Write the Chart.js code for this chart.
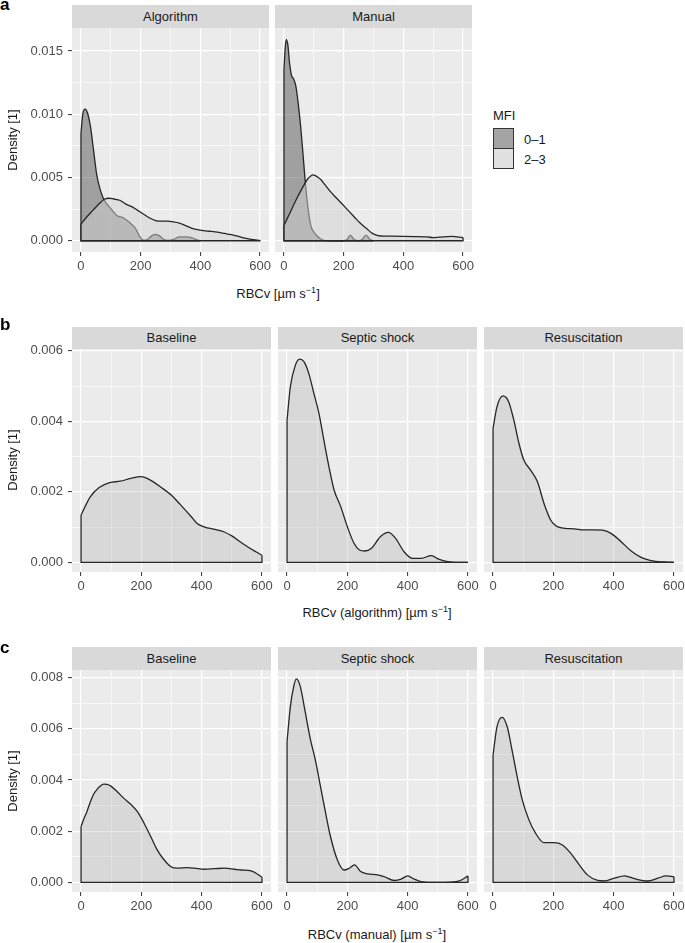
<!DOCTYPE html>
<html>
<head>
<meta charset="utf-8">
<script src="https://cdn.jsdelivr.net/npm/chart.js@4.4.0/dist/chart.umd.min.js"></script>
<style>
  body { margin: 0; background: #fff; font-family: "Liberation Sans", Arial, sans-serif; }
  #fig { position: relative; width: 685px; height: 943px; overflow: hidden; }
  .strip { position: absolute; background: #d9d9d9; color: #1a1a1a; font-size: 13px; text-align: center; }
  .txt { position: absolute; font-size: 13px; color: #1a1a1a; white-space: nowrap; transform: translate(-50%, -50%); }
  .rot { transform: translate(-50%, -50%) rotate(-90deg); }
  .tag { position: absolute; font-size: 17px; font-weight: bold; line-height: 17px; }
  .key { position: absolute; width: 21px; height: 21px; box-sizing: border-box; border: 1px solid #333; }
  sup { font-size: 9px; line-height: 0; vertical-align: 5px; }
  canvas { position: absolute; }
</style>
</head>
<body>
<div id="fig"></div>
<script>
// axis ticks (major / minor alternate)
const xTicks = [0, 100, 200, 300, 400, 500, 600];
const yTicksA = [0, 0.0025, 0.005, 0.0075, 0.01, 0.0125, 0.015];
const yTicksB = [0, 0.001, 0.002, 0.003, 0.004, 0.005, 0.006];
const yTicksC = [0, 0.001, 0.002, 0.003, 0.004, 0.005, 0.006, 0.007, 0.008];

// a) MFI groups, algorithm vs manual
const algoLowX = [0, 6, 14, 22, 32, 42, 53, 65, 76, 87, 98, 120, 143, 165, 182, 198, 210, 222, 238, 250, 262, 278, 292, 310, 330, 350, 370, 385, 400];
const algoLowY = [0.0085, 0.0100, 0.0104, 0.0101, 0.0090, 0.0072, 0.0052, 0.0040, 0.0033, 0.0029, 0.0026, 0.0020, 0.0018, 0.0014, 0.0010, 0.0003, 0.00005, 0.0001, 0.0004, 0.0005, 0.0004, 0.0001, 0.00003, 0.0001, 0.0003, 0.0003, 0.00025, 0.0001, 0.0];
const algoHighX = [0, 20, 40, 60, 80, 95, 110, 130, 150, 170, 190, 210, 230, 250, 270, 290, 310, 330, 350, 370, 390, 410, 430, 450, 470, 490, 510, 530, 550, 570, 600];
const algoHighY = [0.00132, 0.0019, 0.0024, 0.0029, 0.0033, 0.00336, 0.0033, 0.0032, 0.0029, 0.0027, 0.0024, 0.0021, 0.0018, 0.0016, 0.00155, 0.00155, 0.0015, 0.0014, 0.0012, 0.001, 0.00088, 0.0008, 0.00075, 0.0007, 0.00062, 0.00053, 0.00045, 0.00033, 0.0002, 0.0001, 0.00003];
const manLowX = [0, 4, 8, 13, 19, 25, 32, 40, 48, 56, 64, 72, 80, 90, 100, 110, 120, 130, 150, 180, 200, 212, 222, 235, 250, 262, 275, 288, 300];
const manLowY = [0.0135, 0.0152, 0.0159, 0.0155, 0.0140, 0.0131, 0.0128, 0.0122, 0.0108, 0.0090, 0.0068, 0.0045, 0.0027, 0.0012, 0.0007, 0.0004, 0.0002, 0.00005, 0.0, 0.0, 0.0, 0.0001, 0.00045, 0.0001, 0.0, 0.0001, 0.00045, 0.0001, 0.0];
const manHighX = [0, 20, 40, 60, 80, 90, 97, 105, 115, 125, 135, 155, 175, 195, 215, 235, 255, 275, 295, 315, 335, 360, 400, 440, 480, 500, 520, 560, 580, 600];
const manHighY = [0.0012, 0.0022, 0.0032, 0.0041, 0.0049, 0.00512, 0.0052, 0.00515, 0.0050, 0.0048, 0.0045, 0.0039, 0.0034, 0.0029, 0.0024, 0.0019, 0.0014, 0.0010, 0.0006, 0.0004, 0.00036, 0.00036, 0.00035, 0.00033, 0.0003, 0.00025, 0.00028, 0.00035, 0.0003, 0.00025];

// b) algorithm, by phase
const baseAlgX = [0, 30, 60, 95, 130, 165, 200, 230, 265, 300, 330, 365, 385, 410, 440, 475, 500, 530, 560, 580, 600];
const baseAlgY = [0.00134, 0.00185, 0.00212, 0.00226, 0.0023, 0.00238, 0.00243, 0.00233, 0.00213, 0.0019, 0.00163, 0.0013, 0.0011, 0.001, 0.00094, 0.00086, 0.00075, 0.00057, 0.0004, 0.0003, 0.0002];
const septicAlgX = [0, 11, 28, 42, 56, 72, 89, 106, 122, 139, 156, 178, 200, 222, 240, 258, 280, 310, 336, 360, 388, 416, 445, 478, 505, 533, 560, 600];
const septicAlgY = [0.00403, 0.00498, 0.0056, 0.00576, 0.00569, 0.00536, 0.00479, 0.00422, 0.00347, 0.00271, 0.00205, 0.00158, 0.00101, 0.00054, 0.00035, 0.00032, 0.0004, 0.00073, 0.00085, 0.00068, 0.0003, 0.00011, 0.00011, 0.00019, 0.00008, 0.00002, 0.0, 0.0];
const resusAlgX = [0, 13, 33, 52, 69, 86, 102, 124, 147, 169, 191, 205, 220, 240, 269, 302, 336, 363, 391, 424, 458, 491, 524, 569, 600];
const resusAlgY = [0.0038, 0.00441, 0.00472, 0.00455, 0.00403, 0.00337, 0.0029, 0.00262, 0.00229, 0.00167, 0.0012, 0.00106, 0.00099, 0.00096, 0.00095, 0.00092, 0.00092, 0.00091, 0.00082, 0.00059, 0.00032, 0.00014, 0.00005, 0.00001, 0.0];

// c) manual, by phase
const baseManX = [0, 10, 20, 31, 42, 53, 64, 75, 86, 98, 120, 142, 164, 187, 209, 231, 253, 276, 298, 320, 353, 376, 409, 442, 476, 509, 531, 564, 600];
const baseManY = [0.00218, 0.0025, 0.00278, 0.00315, 0.00345, 0.00363, 0.00376, 0.00384, 0.00383, 0.00377, 0.00354, 0.00328, 0.00306, 0.00276, 0.00231, 0.00179, 0.00126, 0.00087, 0.00061, 0.00055, 0.00057, 0.00055, 0.00051, 0.00053, 0.00055, 0.00051, 0.00048, 0.00045, 0.0002];
const septicManX = [0, 11, 22, 31, 44, 61, 78, 94, 111, 128, 144, 167, 189, 206, 224, 244, 267, 300, 322, 356, 378, 400, 422, 444, 480, 520, 560, 580, 600];
const septicManY = [0.0055, 0.00687, 0.00765, 0.00795, 0.00765, 0.00661, 0.00556, 0.00478, 0.00374, 0.0027, 0.00179, 0.00087, 0.00048, 0.00055, 0.00068, 0.00042, 0.00033, 0.00029, 0.00022, 0.00007, 0.00012, 0.00025, 0.00012, 0.00003, 0.0, 0.0, 0.00002, 0.0001, 0.00025];
const resusManX = [0, 13, 30, 47, 63, 80, 97, 119, 141, 169, 202, 230, 258, 286, 313, 347, 369, 402, 436, 469, 513, 547, 574, 600];
const resusManY = [0.00498, 0.00608, 0.00645, 0.00608, 0.00517, 0.00413, 0.00322, 0.00244, 0.00192, 0.00155, 0.00155, 0.00146, 0.00113, 0.00068, 0.00029, 0.00007, 0.00005, 0.00016, 0.00025, 0.00014, 0.00005, 0.00016, 0.00025, 0.00022];

const legendTitle = 'MFI';
const legendLabels = ['0–1', '2–3'];

// colours
const darkFill = 'rgba(85,85,85,0.5)';
const lightFill = 'rgba(209,209,209,0.5)';
const greyFill = 'rgba(150,150,150,0.22)';
const lineCol = '#262626';
const tickCol = '#4d4d4d';

Chart.defaults.font.family = '"Liberation Sans", Arial, sans-serif';
Chart.defaults.font.size = 13;

const fig = document.getElementById('fig');

// grey panel background behind the grid
const panelBg = {
  id: 'panelBg',
  beforeDraw(chart) {
    const a = chart.chartArea;
    const ctx = chart.ctx;
    ctx.save();
    ctx.fillStyle = '#ebebeb';
    ctx.fillRect(a.left, a.top, a.right - a.left, a.bottom - a.top);
    ctx.restore();
  }
};

function addDiv(cls, html, left, top) {
  const d = document.createElement('div');
  d.className = cls;
  d.innerHTML = html;
  d.style.left = left + 'px';
  d.style.top = top + 'px';
  fig.appendChild(d);
  return d;
}

// one density curve: the filled curve plus the closing edges (sides and baseline)
function curveSets(xs, ys, fill, order) {
  const last = xs.length - 1;
  return [
    {
      data: xs.map((x, i) => ({ x: x, y: ys[i] })),
      fill: 'origin', backgroundColor: fill,
      borderColor: lineCol, borderWidth: 1.3,
      pointRadius: 0, cubicInterpolationMode: 'monotone',
      order: order + 1
    },
    {
      data: [{ x: xs[0], y: ys[0] }, { x: xs[0], y: 0 }, { x: xs[last], y: 0 }, { x: xs[last], y: ys[last] }],
      fill: false, borderColor: lineCol, borderWidth: 1.3,
      borderJoinStyle: 'miter', pointRadius: 0, tension: 0,
      order: order
    }
  ];
}

function panel(p) {
  const strip = addDiv('strip', p.title, p.left, p.stripTop);
  strip.style.width = p.width + 'px';
  strip.style.height = (p.top - p.stripTop) + 'px';
  strip.style.lineHeight = (p.top - p.stripTop) + 'px';

  const yW = p.showY ? p.left : 0;
  const padTop = 14, padRight = 10, xH = 24;
  const w = yW + p.width + padRight;
  const h = padTop + p.height + xH;
  const c = document.createElement('canvas');
  c.width = w; c.height = h;
  c.style.width = w + 'px'; c.style.height = h + 'px';
  c.style.left = (p.left - yW) + 'px';
  c.style.top = (p.top - padTop) + 'px';
  fig.appendChild(c);

  let datasets = [];
  let order = 2 * p.series.length;
  p.series.forEach(s => {
    order -= 2;
    datasets = datasets.concat(curveSets(s[0], s[1], s[2], order + 1));
  });

  new Chart(c, {
    type: 'line',
    data: { datasets: datasets },
    plugins: [panelBg],
    options: {
      responsive: false,
      animation: false,
      events: [],
      devicePixelRatio: 1,
      layout: { padding: { top: padTop, right: padRight, left: 0, bottom: 0 } },
      plugins: { legend: { display: false }, tooltip: { enabled: false } },
      scales: {
        x: {
          type: 'linear', min: -30, max: 630,
          afterBuildTicks: ax => { ax.ticks = xTicks.map(v => ({ value: v })); },
          afterFit: ax => { ax.height = xH; },
          ticks: {
            autoSkip: false, maxRotation: 0, padding: 3, color: tickCol,
            callback: (v, i) => i % 2 === 0 ? String(v) : ''
          },
          grid: {
            color: '#ffffff',
            lineWidth: ctx => ctx.index % 2 === 0 ? 1.2 : 0.6,
            tickColor: ctx => ctx.index % 2 === 0 ? '#333333' : 'rgba(0,0,0,0)',
            tickLength: 4, tickWidth: 1
          },
          border: { display: false }
        },
        y: {
          type: 'linear', min: p.yMin, max: p.yMax,
          afterBuildTicks: ax => { ax.ticks = p.yTicks.map(v => ({ value: v })); },
          afterFit: ax => { ax.width = yW; },
          ticks: {
            display: p.showY, padding: 5, color: tickCol,
            callback: (v, i) => i % 2 === 0 ? v.toFixed(3) : ''
          },
          grid: {
            color: '#ffffff',
            lineWidth: ctx => ctx.index % 2 === 0 ? 1.2 : 0.6,
            tickColor: ctx => ctx.index % 2 === 0 ? '#333333' : 'rgba(0,0,0,0)',
            drawTicks: p.showY, tickLength: 4, tickWidth: 1
          },
          border: { display: false }
        }
      }
    }
  });
}

// row a
const rowA = { stripTop: 5, top: 28, height: 224, width: 197, yTicks: yTicksA, yMin: -0.00089, yMax: 0.01682 };
panel(Object.assign({}, rowA, { left: 72, showY: true, title: 'Algorithm',
  series: [[algoLowX, algoLowY, darkFill], [algoHighX, algoHighY, lightFill]] }));
panel(Object.assign({}, rowA, { left: 275, showY: false, title: 'Manual',
  series: [[manLowX, manLowY, darkFill], [manHighX, manHighY, lightFill]] }));

// row b
const rowB = { stripTop: 327, top: 349, height: 223, width: 199, yTicks: yTicksB, yMin: -0.000275, yMax: 0.00605 };
panel(Object.assign({}, rowB, { left: 72, showY: true, title: 'Baseline', series: [[baseAlgX, baseAlgY, greyFill]] }));
panel(Object.assign({}, rowB, { left: 278, showY: false, title: 'Septic shock', series: [[septicAlgX, septicAlgY, greyFill]] }));
panel(Object.assign({}, rowB, { left: 484, showY: false, title: 'Resuscitation', series: [[resusAlgX, resusAlgY, greyFill]] }));

// row c
const rowC = { stripTop: 647, top: 670, height: 222, width: 199, yTicks: yTicksC, yMin: -0.00038, yMax: 0.0083 };
panel(Object.assign({}, rowC, { left: 72, showY: true, title: 'Baseline', series: [[baseManX, baseManY, greyFill]] }));
panel(Object.assign({}, rowC, { left: 278, showY: false, title: 'Septic shock', series: [[septicManX, septicManY, greyFill]] }));
panel(Object.assign({}, rowC, { left: 484, showY: false, title: 'Resuscitation', series: [[resusManX, resusManY, greyFill]] }));

// panel letters
addDiv('tag', 'a', 0, -4);
addDiv('tag', 'b', 0, 316);
addDiv('tag', 'c', 0, 639);

// axis titles
addDiv('txt rot', 'Density [1]', 12, 140);
addDiv('txt rot', 'Density [1]', 12, 460);
addDiv('txt rot', 'Density [1]', 12, 781);
addDiv('txt', 'RBCv [µm s<sup>−1</sup>]', 278, 293);
addDiv('txt', 'RBCv (algorithm) [µm s<sup>−1</sup>]', 377, 612);
addDiv('txt', 'RBCv (manual) [µm s<sup>−1</sup>]', 377, 934);

// legend for panel a
const lt = addDiv('txt', legendTitle, 493, 115);
lt.style.transform = 'translate(0, -50%)';
const k1 = addDiv('key', '', 493, 128);
k1.style.background = '#a4a4a4';
const k2 = addDiv('key', '', 493, 148);
k2.style.background = '#e1e1e1';
legendLabels.forEach((t, i) => {
  const l = addDiv('txt', t, 524, 139 + i * 20);
  l.style.transform = 'translate(0, -50%)';
});
</script>
</body>
</html>
